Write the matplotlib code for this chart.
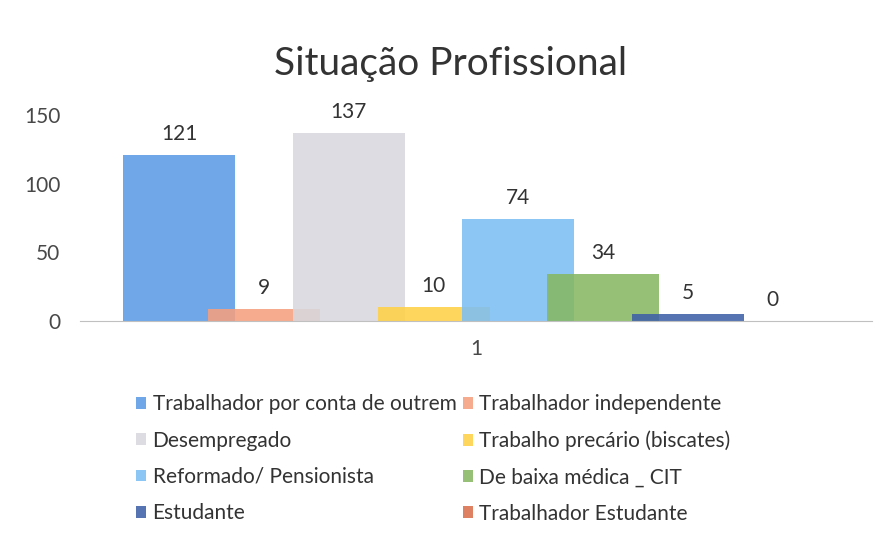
import matplotlib
matplotlib.use("Agg")
import matplotlib.pyplot as plt
import numpy as np

plt.rcParams["font.family"] = ["Lato", "DejaVu Sans"]

# =====================
# dados
# =====================
categorias = ["1"]
series = [
    "Trabalhador por conta de outrem",
    "Trabalhador independente",
    "Desempregado",
    "Trabalho precário (biscates)",
    "Reformado/ Pensionista",
    "De baixa médica _ CIT",
    "Estudante",
    "Trabalhador Estudante",
]
valores = [121, 9, 137, 10, 74, 34, 5, 0]
cores = ["#5b9be6", "#f5a07e", "#d8d8de", "#ffd146",
         "#7cbff4", "#86b862", "#3e61a8", "#d9704c"]

# =====================
# gráfico
# =====================
fig = plt.figure(figsize=(8.88, 5.54), dpi=100)
ax = fig.add_axes([0.09, 0.4206, 0.892, 0.397])

passo = 0.107
largura = 0.1414
handles = []
for i, (nome, v, c) in enumerate(zip(series, valores, cores)):
    x = (i - (len(series) - 1) / 2) * passo
    b = ax.bar(x, v, width=largura, color=c, alpha=0.88, label=nome, zorder=2)
    handles.append(b)
    ax.annotate(str(v), (x, v), xytext=(0, 8), textcoords="offset points",
                ha="center", va="bottom", fontsize=15, color="#333333")

ax.set_xlim(-0.5, 0.5)
ax.set_ylim(0, 160)
ax.set_yticks([0, 50, 100, 150])
ax.set_xticks([0])
ax.set_xticklabels(categorias)
ax.tick_params(axis="both", length=0, labelsize=15, labelcolor="#484848")
ax.tick_params(axis="y", pad=14)
ax.tick_params(axis="x", pad=13)
for s in ["top", "right", "left"]:
    ax.spines[s].set_visible(False)
ax.spines["bottom"].set_color("#c0c0c0")

fig.text(0.507, 0.885, "Situação Profissional", ha="center", va="center",
         fontsize=28, color="#333333")

# legenda: ordem por linhas (2 colunas)
ordem = [0, 2, 4, 6, 1, 3, 5, 7]
leg = fig.legend([handles[i] for i in ordem], [series[i] for i in ordem],
                 ncol=2, loc="upper left", bbox_to_anchor=(0.153, 0.288),
                 frameon=False, fontsize=15, handlelength=0.5,
                 handleheight=0.5, handletextpad=0.3, columnspacing=0.3,
                 labelspacing=0.78, labelcolor="#333333",
                 borderpad=0, borderaxespad=0)

fig.savefig("out.png", dpi=100, facecolor="white")
